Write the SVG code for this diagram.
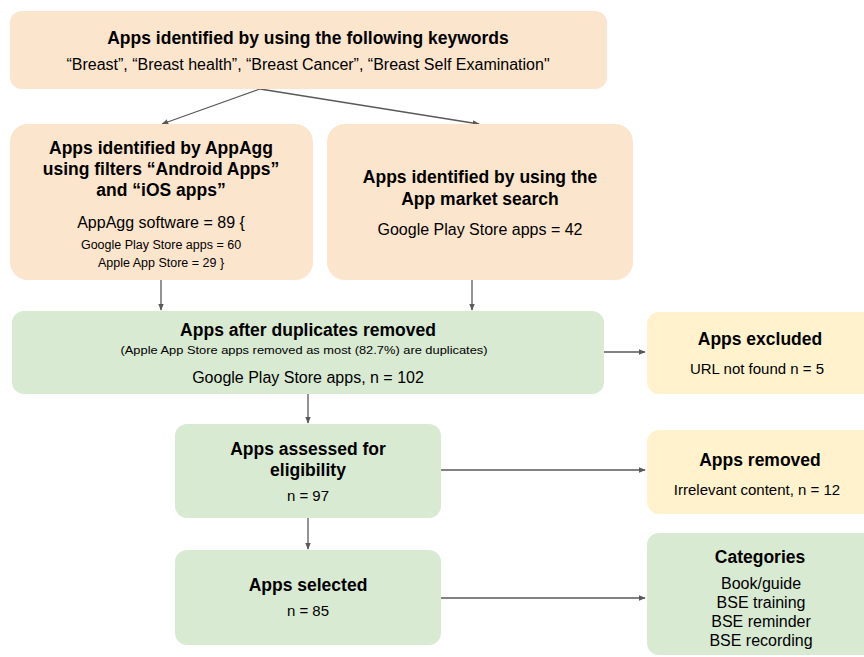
<svg xmlns="http://www.w3.org/2000/svg" width="864" height="657" viewBox="0 0 864 657">
<defs>
<marker id="ah" viewBox="0 0 10 10" refX="9" refY="5" markerWidth="7" markerHeight="7" markerUnits="userSpaceOnUse" orient="auto">
<path d="M0,1 L10,5 L0,9 z" fill="#595959"/>
</marker>
</defs>
<style>
text{font-family:"Liberation Sans",Arial,sans-serif;fill:#000;text-anchor:middle}
.t{font-weight:bold;font-size:17.5px}
.s{font-size:15px}
.m{font-size:16px}
.xs{font-size:12.5px}
.tiny{font-size:11px}
.o{fill:#fce5cd}
.g{fill:#d9ead3}
.y{fill:#fff2cc}
.c{stroke:#595959;stroke-width:1.3;fill:none;marker-end:url(#ah)}
</style>
<rect width="864" height="657" fill="#fff"/>
<g id="connectors">
<path class="c" d="M260,89 L162,124"/>
<path class="c" d="M260,89 L479,124"/>
<path class="c" d="M161,280 L161,310"/>
<path class="c" d="M472,280 L472,310"/>
<path class="c" d="M604,352 L645,352"/>
<path class="c" d="M308,394 L308,423"/>
<path class="c" d="M441,470 L645,470"/>
<path class="c" d="M308,518 L308,549"/>
<path class="c" d="M441,598 L645,598"/>
</g>
<g id="keywords">
<rect class="o" x="10" y="11" width="597" height="78" rx="12"/>
<text class="t" x="308" y="44">Apps identified by using the following keywords</text>
<text class="m" x="308" y="70">“Breast”, “Breast health”, “Breast Cancer”, “Breast Self Examination"</text>
</g>
<g id="appagg">
<rect class="o" x="10" y="124" width="303" height="156" rx="18"/>
<text class="t" x="161" y="154">Apps identified by AppAgg</text>
<text class="t" x="161" y="175">using filters “Android Apps”</text>
<text class="t" x="161" y="196">and “iOS apps”</text>
<text class="m" x="161" y="228">AppAgg software = 89 {</text>
<text class="xs" x="161" y="249">Google Play Store apps = 60</text>
<text class="xs" x="161" y="267">Apple App Store = 29 }</text>
</g>
<g id="market">
<rect class="o" x="327" y="124" width="306" height="156" rx="18"/>
<text class="t" x="480" y="183">Apps identified by using the</text>
<text class="t" x="480" y="205">App market search</text>
<text class="m" x="480" y="235">Google Play Store apps = 42</text>
</g>
<g id="duplicates">
<rect class="g" x="12" y="311" width="592" height="83" rx="12"/>
<text class="t" x="308" y="336">Apps after duplicates removed</text>
<text class="tiny" x="304" y="354" textLength="367" lengthAdjust="spacingAndGlyphs">(Apple App Store apps removed as most (82.7%) are duplicates)</text>
<text class="m" x="308" y="383">Google Play Store apps, n = 102</text>
</g>
<g id="excluded">
<rect class="y" x="647" y="312" width="230" height="82" rx="12"/>
<text class="t" x="760" y="345">Apps excluded</text>
<text class="s" x="757" y="374">URL not found n = 5</text>
</g>
<g id="assessed">
<rect class="g" x="175" y="424" width="266" height="94" rx="12"/>
<text class="t" x="308" y="455">Apps assessed for</text>
<text class="t" x="308" y="476">eligibility</text>
<text class="s" x="308" y="501">n = 97</text>
</g>
<g id="removed">
<rect class="y" x="647" y="430" width="230" height="84" rx="12"/>
<text class="t" x="760" y="466">Apps removed</text>
<text class="s" x="757" y="495">Irrelevant content, n = 12</text>
</g>
<g id="selected">
<rect class="g" x="175" y="550" width="266" height="95" rx="12"/>
<text class="t" x="308" y="591">Apps selected</text>
<text class="s" x="308" y="616">n = 85</text>
</g>
<g id="categories">
<rect class="g" x="647" y="533" width="230" height="122" rx="12"/>
<text class="t" x="760" y="563">Categories</text>
<text class="m" x="761" y="589">Book/guide</text>
<text class="m" x="761" y="608">BSE training</text>
<text class="m" x="761" y="627">BSE reminder</text>
<text class="m" x="761" y="646">BSE recording</text>
</g>
</svg>
